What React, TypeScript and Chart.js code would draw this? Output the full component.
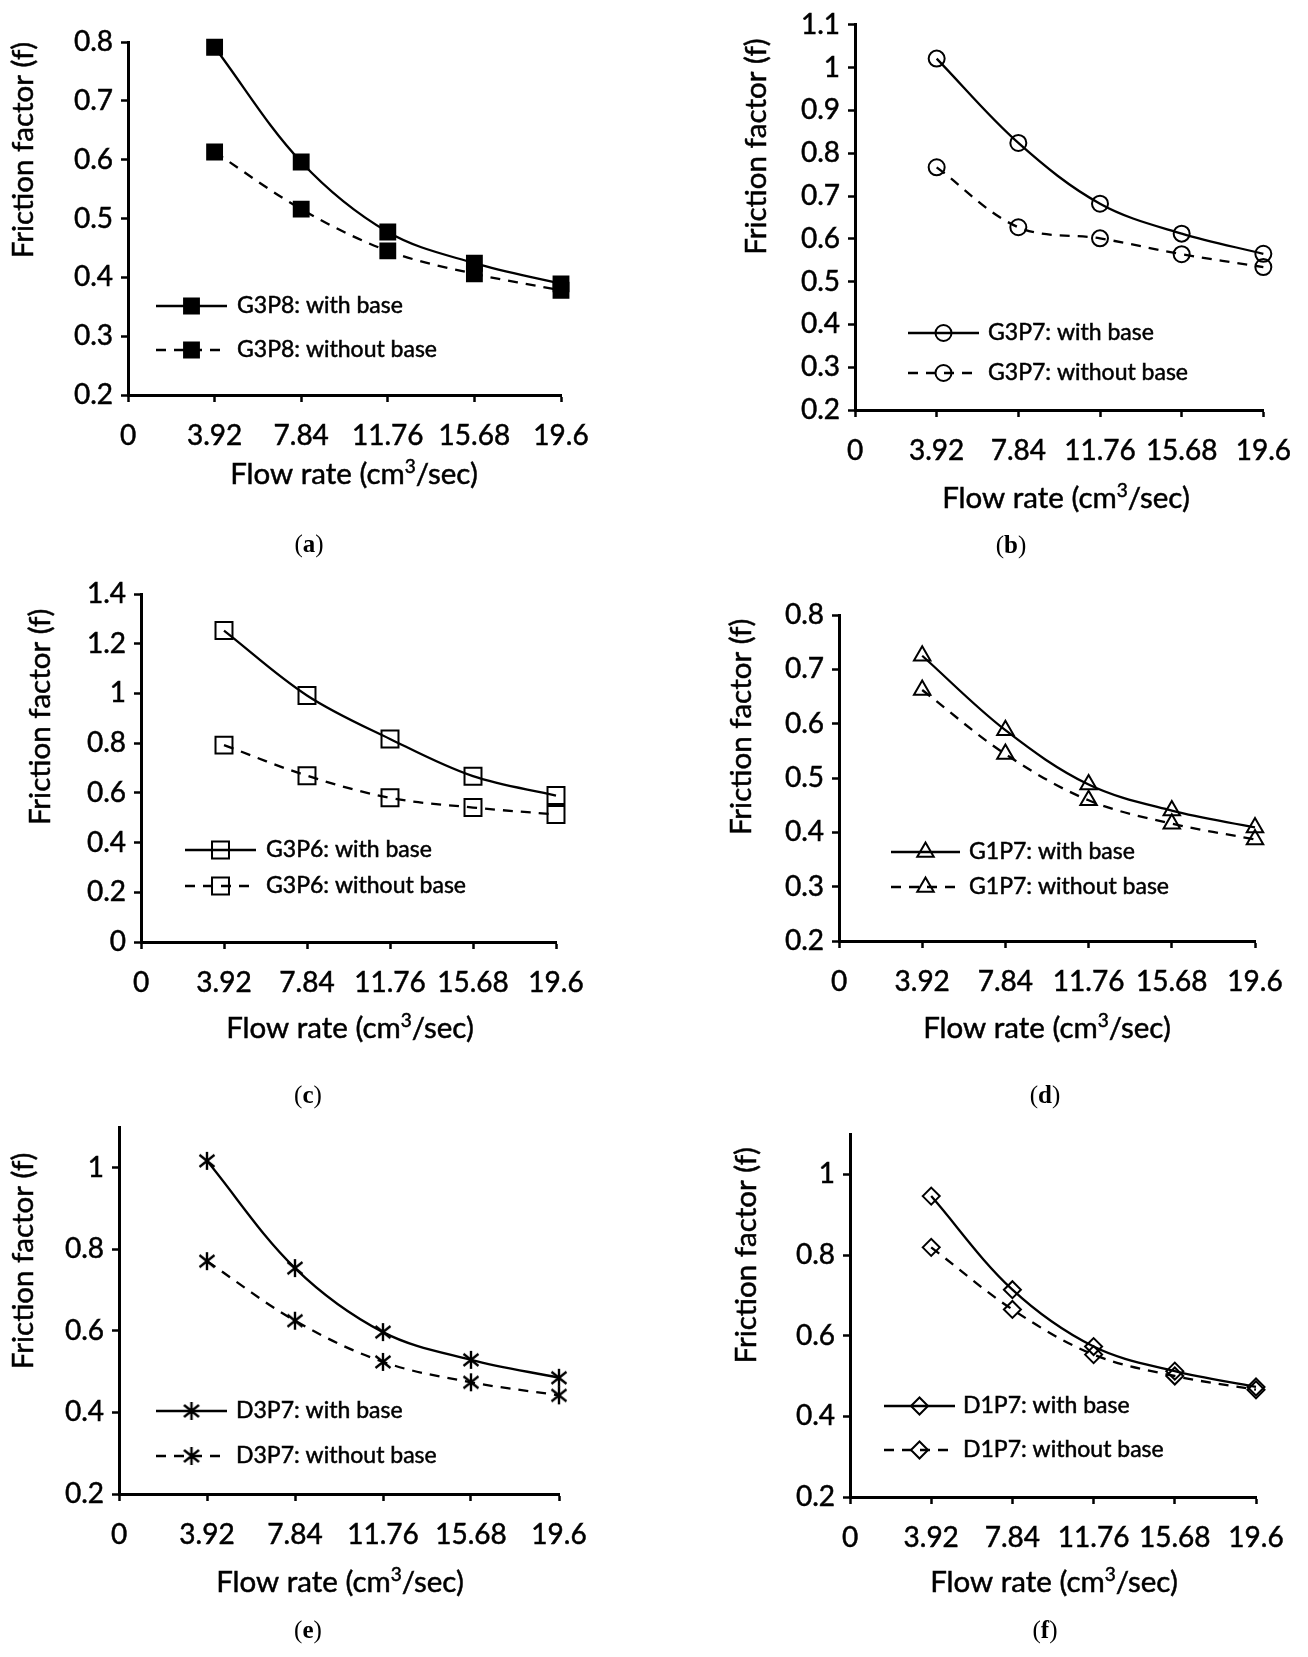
import React, { useEffect, useRef } from "react";
import { Chart, registerables } from "chart.js";
import { drawPoint } from "chart.js/helpers";

Chart.register(...registerables);

// ---------- data ----------
const flowRates = [3.92, 7.84, 11.76, 15.68, 19.6];
const xTickValues = [0, 3.92, 7.84, 11.76, 15.68, 19.6];
const xTickLabels = ["0", "3.92", "7.84", "11.76", "15.68", "19.6"];

const g3p8WithBase = [0.791, 0.596, 0.477, 0.424, 0.389];
const g3p8WithoutBase = [0.613, 0.516, 0.445, 0.406, 0.378];
const g3p7WithBase = [1.021, 0.824, 0.682, 0.612, 0.565];
const g3p7WithoutBase = [0.767, 0.627, 0.601, 0.564, 0.534];
const g3p6WithBase = [1.253, 0.992, 0.817, 0.667, 0.589];
const g3p6WithoutBase = [0.792, 0.669, 0.580, 0.541, 0.513];
const g1p7WithBase = [0.725, 0.588, 0.488, 0.440, 0.409];
const g1p7WithoutBase = [0.662, 0.544, 0.459, 0.416, 0.387];
const d3p7WithBase = [1.017, 0.754, 0.597, 0.529, 0.485];
const d3p7WithoutBase = [0.771, 0.625, 0.524, 0.474, 0.442];
const d1p7WithBase = [0.946, 0.714, 0.573, 0.512, 0.473];
const d1p7WithoutBase = [0.819, 0.665, 0.553, 0.500, 0.466];

const yTicksA = [0.2, 0.3, 0.4, 0.5, 0.6, 0.7, 0.8];
const yLabelsA = ["0.2", "0.3", "0.4", "0.5", "0.6", "0.7", "0.8"];
const yTicksB = [0.2, 0.3, 0.4, 0.5, 0.6, 0.7, 0.8, 0.9, 1.0, 1.1];
const yLabelsB = ["0.2", "0.3", "0.4", "0.5", "0.6", "0.7", "0.8", "0.9", "1", "1.1"];
const yTicksC = [0, 0.2, 0.4, 0.6, 0.8, 1.0, 1.2, 1.4];
const yLabelsC = ["0", "0.2", "0.4", "0.6", "0.8", "1", "1.2", "1.4"];
const yTicksD = [0.2, 0.3, 0.4, 0.5, 0.6, 0.7, 0.8];
const yLabelsD = ["0.2", "0.3", "0.4", "0.5", "0.6", "0.7", "0.8"];
const yTicksE = [0.2, 0.4, 0.6, 0.8, 1.0];
const yLabelsE = ["0.2", "0.4", "0.6", "0.8", "1"];
const yTicksF = [0.2, 0.4, 0.6, 0.8, 1.0];
const yLabelsF = ["0.2", "0.4", "0.6", "0.8", "1"];

const yTitle = "Friction factor (f)";
const xTitleParts = ["Flow rate (cm", "3", "/sec)"];

// ---------- styles ----------
const FONT = "Lato, 'Open Sans', sans-serif";
const TICK_SIZE = 28;
const TITLE_SIZE = 29.5;
const SUP_SIZE = 19;
const LEGEND_SIZE = 23;
const TEXT_STROKE = 0.5;
const Y_AXIS_W = 90;
const X_AXIS_H = 60;

let starCanvas: HTMLCanvasElement | null = null;
function getStar(): HTMLCanvasElement {
  if (starCanvas) return starCanvas;
  const c = document.createElement("canvas");
  c.width = 20;
  c.height = 20;
  const g = c.getContext("2d")!;
  g.strokeStyle = "#000";
  g.lineWidth = 2.4;
  g.beginPath();
  g.moveTo(10, 1);
  g.lineTo(10, 19);
  g.moveTo(2.5, 4);
  g.lineTo(17.5, 16);
  g.moveTo(17.5, 4);
  g.lineTo(2.5, 16);
  g.stroke();
  starCanvas = c;
  return c;
}

function strokedText(ctx: CanvasRenderingContext2D, text: string, x: number, y: number) {
  ctx.fillText(text, x, y);
  ctx.lineWidth = TEXT_STROKE;
  ctx.strokeStyle = "#000";
  ctx.setLineDash([]);
  ctx.strokeText(text, x, y);
}

const decorPlugin = {
  id: "panelDecor",
  afterDraw(chart: any, _args: any, opts: any) {
    const { ctx, chartArea } = chart;
    ctx.save();
    ctx.fillStyle = "#000";
    ctx.textAlign = "center";
    ctx.textBaseline = "middle";
    ctx.font = `${TITLE_SIZE}px ${FONT}`;
    // y title
    ctx.save();
    ctx.translate(opts.yTitleX, chartArea.top + opts.yTitleFrac * (chartArea.bottom - chartArea.top));
    ctx.rotate(-Math.PI / 2);
    strokedText(ctx, yTitle, 0, 0);
    ctx.restore();
    // x title with superscript
    ctx.save();
    ctx.textAlign = "left";
    ctx.textBaseline = "alphabetic";
    const mainFont = `${TITLE_SIZE}px ${FONT}`;
    const supFont = `${SUP_SIZE}px ${FONT}`;
    ctx.font = mainFont;
    const w0 = ctx.measureText(xTitleParts[0]).width;
    const w2 = ctx.measureText(xTitleParts[2]).width;
    ctx.font = supFont;
    const w1 = ctx.measureText(xTitleParts[1]).width;
    const total = w0 + w1 + w2;
    let x = opts.xTitleX - total / 2;
    const base = opts.xTitleY + TITLE_SIZE * 0.36;
    ctx.font = mainFont;
    strokedText(ctx, xTitleParts[0], x, base);
    x += w0;
    ctx.font = supFont;
    strokedText(ctx, xTitleParts[1], x, base - TITLE_SIZE * 0.36);
    x += w1;
    ctx.font = mainFont;
    strokedText(ctx, xTitleParts[2], x, base);
    ctx.restore();
    // legend
    chart.data.datasets.forEach((ds: any, i: number) => {
      const y = opts.legendY + i * opts.legendGap;
      ctx.save();
      ctx.strokeStyle = "#000";
      ctx.lineWidth = ds.borderWidth;
      ctx.setLineDash(ds.borderDash || []);
      ctx.beginPath();
      ctx.moveTo(opts.legendX, y);
      ctx.lineTo(opts.legendX + opts.legendLen, y);
      ctx.stroke();
      ctx.setLineDash([]);
      ctx.fillStyle = ds.pointBackgroundColor;
      ctx.strokeStyle = ds.pointBorderColor;
      ctx.lineWidth = ds.pointBorderWidth;
      drawPoint(
        ctx,
        { pointStyle: ds.pointStyle, radius: ds.pointRadius, rotation: 0, borderWidth: ds.pointBorderWidth },
        opts.legendX + opts.legendLen / 2,
        y
      );
      ctx.restore();
      ctx.save();
      ctx.fillStyle = "#000";
      ctx.font = `${LEGEND_SIZE}px ${FONT}`;
      ctx.textAlign = "left";
      ctx.textBaseline = "middle";
      strokedText(ctx, ds.label, opts.legendTextX, y);
      ctx.restore();
    });
    ctx.restore();
  },
};

type PanelCfg = {
  box: { left: number; top: number; w: number; h: number };
  area: { L: number; T: number; R: number; B: number };
  yMin: number;
  yMax: number;
  yTicks: number[];
  yLabels: string[];
  name: string;
  withBase: number[];
  withoutBase: number[];
  marker: string;
  radius: number;
  filled: boolean;
  yTitleX: number;
  yTitleFrac: number;
  xTitleX: number;
  xTitleY: number;
  legend: { x: number; len: number; y: number; gap: number; textX: number };
  caption: { letter: string; cx: number; cy: number };
};

const panels: PanelCfg[] = [
  {
    box: { left: 0, top: 0, w: 654, h: 540 },
    area: { L: 128, T: 42, R: 561, B: 395 },
    yMin: 0.2, yMax: 0.8, yTicks: yTicksA, yLabels: yLabelsA,
    name: "G3P8", withBase: g3p8WithBase, withoutBase: g3p8WithoutBase,
    marker: "rect", radius: 10.5, filled: true,
    yTitleX: 23, yTitleFrac: 0.306, xTitleX: 354, xTitleY: 473,
    legend: { x: 156, len: 71, y: 306, gap: 44, textX: 237 },
    caption: { letter: "a", cx: 309, cy: 544 },
  },
  {
    box: { left: 654, top: 0, w: 654, h: 540 },
    area: { L: 855, T: 19, R: 1271, B: 410 },
    yMin: 0.2, yMax: 1.1, yTicks: yTicksB, yLabels: yLabelsB,
    name: "G3P7", withBase: g3p7WithBase, withoutBase: g3p7WithoutBase,
    marker: "circle", radius: 8, filled: false,
    yTitleX: 756, yTitleFrac: 0.316, xTitleX: 1066, xTitleY: 497,
    legend: { x: 908, len: 71, y: 333, gap: 40, textX: 988 },
    caption: { letter: "b", cx: 1011, cy: 545 },
  },
  {
    box: { left: 0, top: 560, w: 654, h: 540 },
    area: { L: 141, T: 594, R: 556, B: 942 },
    yMin: 0, yMax: 1.4, yTicks: yTicksC, yLabels: yLabelsC,
    name: "G3P6", withBase: g3p6WithBase, withoutBase: g3p6WithoutBase,
    marker: "rect", radius: 12, filled: false,
    yTitleX: 40, yTitleFrac: 0.353, xTitleX: 350, xTitleY: 1027,
    legend: { x: 185, len: 71, y: 850, gap: 36, textX: 266 },
    caption: { letter: "c", cx: 308, cy: 1095 },
  },
  {
    box: { left: 654, top: 560, w: 654, h: 540 },
    area: { L: 839, T: 615, R: 1255, B: 941 },
    yMin: 0.2, yMax: 0.8, yTicks: yTicksD, yLabels: yLabelsD,
    name: "G1P7", withBase: g1p7WithBase, withoutBase: g1p7WithoutBase,
    marker: "triangle", radius: 9.5, filled: false,
    yTitleX: 741, yTitleFrac: 0.343, xTitleX: 1047, xTitleY: 1027,
    legend: { x: 891, len: 69, y: 852, gap: 35, textX: 969 },
    caption: { letter: "d", cx: 1045, cy: 1095 },
  },
  {
    box: { left: 0, top: 1100, w: 654, h: 557 },
    area: { L: 119, T: 1127, R: 559, B: 1494 },
    yMin: 0.2, yMax: 1.1, yTicks: yTicksE, yLabels: yLabelsE,
    name: "D3P7", withBase: d3p7WithBase, withoutBase: d3p7WithoutBase,
    marker: "star", radius: 10, filled: false,
    yTitleX: 23, yTitleFrac: 0.365, xTitleX: 340, xTitleY: 1581,
    legend: { x: 156, len: 71, y: 1411, gap: 45, textX: 236 },
    caption: { letter: "e", cx: 308, cy: 1630 },
  },
  {
    box: { left: 654, top: 1100, w: 654, h: 557 },
    area: { L: 850, T: 1134, R: 1256, B: 1497 },
    yMin: 0.2, yMax: 1.1, yTicks: yTicksF, yLabels: yLabelsF,
    name: "D1P7", withBase: d1p7WithBase, withoutBase: d1p7WithoutBase,
    marker: "rectRot", radius: 8.5, filled: false,
    yTitleX: 746, yTitleFrac: 0.334, xTitleX: 1054, xTitleY: 1581,
    legend: { x: 884, len: 71, y: 1406, gap: 44, textX: 963 },
    caption: { letter: "f", cx: 1045, cy: 1630 },
  },
];

function Panel({ cfg }: { cfg: PanelCfg }) {
  const ref = useRef<HTMLCanvasElement>(null);
  useEffect(() => {
    if (!ref.current) return;
    const { box, area } = cfg;
    const pointStyle: any = cfg.marker === "star" ? getStar() : cfg.marker;
    const makeDs = (label: string, vals: number[], dashed: boolean) => ({
      label,
      data: flowRates.map((x, i) => ({ x, y: vals[i] })),
      borderColor: "#000",
      borderWidth: 2.3,
      borderDash: dashed ? [10, 8] : [],
      tension: 0.35,
      fill: false,
      clip: false as any,
      pointStyle,
      pointRadius: cfg.radius,
      pointHoverRadius: cfg.radius,
      pointBackgroundColor: cfg.filled ? "#000" : "rgba(0,0,0,0)",
      pointBorderColor: "#000",
      pointBorderWidth: 2,
    });
    const tickFont = { family: FONT, size: TICK_SIZE };
    const chart = new Chart(ref.current, {
      type: "line",
      data: {
        datasets: [
          makeDs(`${cfg.name}: with base`, cfg.withBase, false),
          makeDs(`${cfg.name}: without base`, cfg.withoutBase, true),
        ],
      },
      options: {
        responsive: false,
        animation: false,
        events: [],
        layout: {
          padding: {
            left: area.L - box.left - Y_AXIS_W,
            top: area.T - box.top,
            right: box.left + box.w - area.R,
            bottom: box.top + box.h - area.B - X_AXIS_H,
          },
        },
        plugins: {
          legend: { display: false },
          tooltip: { enabled: false },
          panelDecor: {
            yTitleX: cfg.yTitleX - box.left,
            yTitleFrac: cfg.yTitleFrac,
            xTitleX: cfg.xTitleX - box.left,
            xTitleY: cfg.xTitleY - box.top,
            legendX: cfg.legend.x - box.left,
            legendLen: cfg.legend.len,
            legendY: cfg.legend.y - box.top,
            legendGap: cfg.legend.gap,
            legendTextX: cfg.legend.textX - box.left,
          },
        } as any,
        scales: {
          x: {
            type: "linear",
            min: 0,
            max: 19.6,
            afterBuildTicks: (axis: any) => {
              axis.ticks = xTickValues.map((v) => ({ value: v }));
            },
            afterFit: (axis: any) => {
              axis.height = X_AXIS_H;
            },
            ticks: {
              autoSkip: false,
              maxRotation: 0,
              padding: 17,
              color: "#000",
              textStrokeColor: "#000",
              textStrokeWidth: TEXT_STROKE,
              font: tickFont,
              callback: (_v: any, i: number) => xTickLabels[i],
            } as any,
            grid: { display: true, drawOnChartArea: false, drawTicks: true, tickLength: 7, tickColor: "#000", tickWidth: 2.5 },
            border: { display: true, color: "#000", width: 3 },
          },
          y: {
            type: "linear",
            min: cfg.yMin,
            max: cfg.yMax,
            afterBuildTicks: (axis: any) => {
              axis.ticks = cfg.yTicks.map((v) => ({ value: v }));
            },
            afterFit: (axis: any) => {
              axis.width = Y_AXIS_W;
            },
            ticks: {
              autoSkip: false,
              padding: 8,
              color: "#000",
              textStrokeColor: "#000",
              textStrokeWidth: TEXT_STROKE,
              font: tickFont,
              callback: (_v: any, i: number) => cfg.yLabels[i],
            } as any,
            grid: { display: true, drawOnChartArea: false, drawTicks: true, tickLength: 7, tickColor: "#000", tickWidth: 2.5 },
            border: { display: true, color: "#000", width: 3 },
          },
        },
      },
      plugins: [decorPlugin as any],
    });
    return () => chart.destroy();
  }, [cfg]);

  const { box, caption } = cfg;
  return (
    <>
      <div style={{ position: "absolute", left: box.left, top: box.top, width: box.w, height: box.h }}>
        <canvas ref={ref} width={box.w} height={box.h} style={{ width: box.w, height: box.h, display: "block" }} />
      </div>
      <div
        style={{
          position: "absolute",
          left: caption.cx - 60,
          top: caption.cy - 16,
          width: 120,
          height: 32,
          lineHeight: "32px",
          textAlign: "center",
          fontFamily: "'Liberation Serif', 'DejaVu Serif', serif",
          fontSize: 25,
          color: "#000",
        }}
      >
        (<b>{caption.letter}</b>)
      </div>
    </>
  );
}

export default function App() {
  return (
    <div style={{ position: "absolute", left: 0, top: 0, width: 1308, height: 1657, background: "#fff", overflow: "hidden" }}>
      {panels.map((p, i) => (
        <Panel key={i} cfg={p} />
      ))}
    </div>
  );
}
